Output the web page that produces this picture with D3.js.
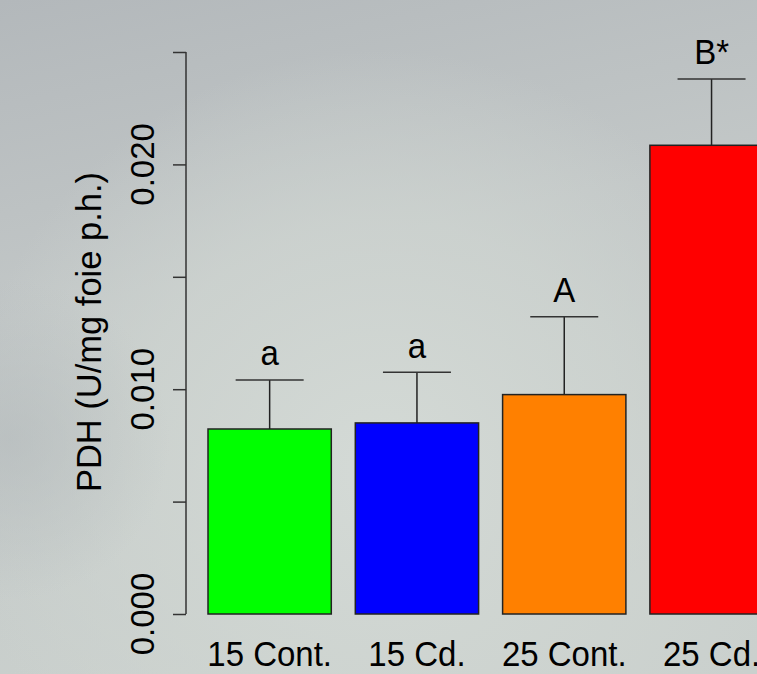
<!DOCTYPE html>
<html>
<head>
<meta charset="utf-8">
<script src="https://cdn.jsdelivr.net/npm/d3@7"></script>
<style>
	html, body { margin: 0; padding: 0; overflow: hidden; }
	#chart { width: 757px; height: 674px; }
	text { font-family: "Liberation Sans", Arial, sans-serif; fill: #000; }
</style>
</head>
<body>
<div id="chart"></div>
<script>
	// data
	var categories = ["15 Cont.", "15 Cd.", "25 Cont.", "25 Cd."];
	var means = [0.00823, 0.00850, 0.00976, 0.02085];
	var errors = [0.00218, 0.00225, 0.00346, 0.00295];
	var letters = ["a", "a", "A", "B*"];
	var colors = ["#00ff00", "#0000ff", "#ff8000", "#ff0000"];
	var yTicks = [0, 0.005, 0.010, 0.015, 0.020, 0.025];
	var yLabelled = [0, 0.010, 0.020];

	var width = 757, height = 674;

	var svg = d3.select("#chart").append("svg")
		.attr("width", width)
		.attr("height", height);

	// blurry grey photo-like backdrop
	var defs = svg.append("defs");
	var g1 = defs.append("radialGradient").attr("id", "light")
		.attr("gradientUnits", "userSpaceOnUse")
		.attr("cx", 380).attr("cy", 470).attr("r", 420);
	g1.append("stop").attr("offset", "0").attr("stop-color", "#d4dad6").attr("stop-opacity", 1);
	g1.append("stop").attr("offset", "0.6").attr("stop-color", "#cfd5d1").attr("stop-opacity", 0.7);
	g1.append("stop").attr("offset", "1").attr("stop-color", "#cfd5d1").attr("stop-opacity", 0);

	var g2 = defs.append("linearGradient").attr("id", "top")
		.attr("x1", 0).attr("y1", 0).attr("x2", 0.25).attr("y2", 1);
	g2.append("stop").attr("offset", "0").attr("stop-color", "#b3b8bb");
	g2.append("stop").attr("offset", "0.45").attr("stop-color", "#c2c7c7");
	g2.append("stop").attr("offset", "1").attr("stop-color", "#cad0cd");

	var g3 = defs.append("radialGradient").attr("id", "dark")
		.attr("gradientUnits", "userSpaceOnUse")
		.attr("cx", 10).attr("cy", 440).attr("r", 160);
	g3.append("stop").attr("offset", "0").attr("stop-color", "#b3b9bb").attr("stop-opacity", 0.6);
	g3.append("stop").attr("offset", "1").attr("stop-color", "#b3b9bb").attr("stop-opacity", 0);

	svg.append("rect").attr("width", width).attr("height", height).attr("fill", "url(#top)");
	svg.append("rect").attr("width", width).attr("height", height).attr("fill", "url(#light)");
	svg.append("rect").attr("width", width).attr("height", height).attr("fill", "url(#dark)");

	// scales
	var xScale = d3.scaleBand()
		.domain(categories)
		.range([196, 196 + 4 * 147.3])
		.paddingInner(0.163)
		.paddingOuter(0.0815);

	var yScale = d3.scaleLinear()
		.domain([0, 0.025])
		.range([614, 52]);

	var axisX = 186;
	var fontSize = 33;
	var stretch = 1.08;   // the text in the picture is a little taller than wide

	// y axis, R style
	var yAxis = svg.append("g")
		.attr("transform", `translate(${axisX},0)`)
		.call(d3.axisLeft(yScale).tickValues(yTicks).tickSize(13).tickFormat(""));
	yAxis.select(".domain")
		.attr("d", `M0,${yScale(0)}V${yScale(0.025)}`)
		.attr("stroke", "#333").attr("stroke-width", 1.5);
	yAxis.selectAll(".tick line").attr("stroke", "#333").attr("stroke-width", 1.5);

	svg.append("g").selectAll("text")
		.data(yLabelled)
		.join("text")
		.attr("transform", d => `translate(154,${yScale(d)}) rotate(-90)`)
		.attr("text-anchor", "middle")
		.style("font-size", fontSize + "px")
		.text(d => d3.format(".3f")(d));

	svg.append("text")
		.attr("transform", `translate(101,332) rotate(-90)`)
		.attr("text-anchor", "middle")
		.style("font-size", "34.5px")
		.text("PDH (U/mg foie p.h.)");

	// bars
	svg.append("g").selectAll("rect")
		.data(categories)
		.join("rect")
		.attr("x", d => xScale(d))
		.attr("y", (d, i) => yScale(means[i]))
		.attr("width", xScale.bandwidth())
		.attr("height", (d, i) => yScale(0) - yScale(means[i]))
		.attr("fill", (d, i) => colors[i])
		.attr("stroke", "#222")
		.attr("stroke-width", 1.5);

	// error bars
	var capHalf = 34;
	var err = svg.append("g").selectAll("g")
		.data(categories)
		.join("g");
	err.append("line")
		.attr("x1", d => xScale(d) + xScale.bandwidth() / 2)
		.attr("x2", d => xScale(d) + xScale.bandwidth() / 2)
		.attr("y1", (d, i) => yScale(means[i]))
		.attr("y2", (d, i) => yScale(means[i] + errors[i]))
		.attr("stroke", "#222").attr("stroke-width", 1.5);
	err.append("line")
		.attr("x1", d => xScale(d) + xScale.bandwidth() / 2 - capHalf)
		.attr("x2", d => xScale(d) + xScale.bandwidth() / 2 + capHalf)
		.attr("y1", (d, i) => yScale(means[i] + errors[i]))
		.attr("y2", (d, i) => yScale(means[i] + errors[i]))
		.attr("stroke", "#333").attr("stroke-width", 1.5);

	// significance letters
	svg.append("g").selectAll("text")
		.data(categories)
		.join("text")
		.attr("transform", (d, i) =>
			`translate(${xScale(d) + xScale.bandwidth() / 2},${yScale(means[i] + errors[i]) - 14.5}) scale(1,${stretch})`)
		.attr("text-anchor", "middle")
		.style("font-size", fontSize + "px")
		.text((d, i) => letters[i]);

	// category labels
	svg.append("g").selectAll("text")
		.data(categories)
		.join("text")
		.attr("transform", d =>
			`translate(${xScale(d) + xScale.bandwidth() / 2},666) scale(1,${stretch})`)
		.attr("text-anchor", "middle")
		.style("font-size", fontSize + "px")
		.text(d => d);
</script>
</body>
</html>
